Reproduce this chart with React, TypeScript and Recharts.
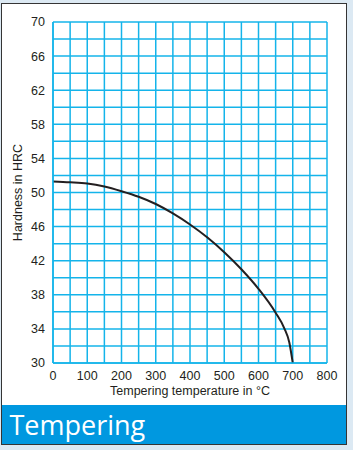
import { LineChart, Line, XAxis, YAxis, CartesianGrid, Label } from 'recharts';

// tempering curve
const temps = [0, 50, 100, 150, 200, 250, 300, 350, 400, 450, 500, 550, 600, 650, 675, 690, 700];
const hardness = [51.3, 51.2, 51.05, 50.7, 50.15, 49.5, 48.65, 47.55, 46.25, 44.75, 43.0, 41.0, 38.7, 35.9, 34.1, 32.4, 30];

const xTicks = [0, 100, 200, 300, 400, 500, 600, 700, 800];
const yTicks = [30, 34, 38, 42, 46, 50, 54, 58, 62, 66, 70];
const xGrid = [0, 50, 100, 150, 200, 250, 300, 350, 400, 450, 500, 550, 600, 650, 700, 750, 800];
const yGrid = [30, 32, 34, 36, 38, 40, 42, 44, 46, 48, 50, 52, 54, 56, 58, 60, 62, 64, 66, 68, 70];

const GRID = '#14b4ea';
const INK = '#231f20';
const FONT = '"Liberation Sans", Arial, sans-serif';

const data = temps.map((t, i) => ({ temp: t, hrc: hardness[i] }));

export default function App() {
  return (
    <div style={{ position: 'absolute', left: 0, top: 0, width: 353, height: 450, background: '#dce9f3', overflow: 'hidden' }}>
      <div
        style={{
          position: 'absolute',
          left: 0.5,
          top: 3,
          width: 344.5,
          height: 440,
          border: '1.5px solid #353535',
          background: '#fff',
        }}
      >
        <div
          style={{
            position: 'absolute',
            left: 0,
            right: 0,
            bottom: 0,
            height: 39,
            background: '#0098e0',
            color: '#fff',
            fontFamily: '"Open Sans", "Noto Sans", sans-serif',
            fontSize: 27,
            lineHeight: '39px',
            paddingLeft: 8,
          }}
        >
          Tempering
        </div>
      </div>
      <div style={{ position: 'absolute', left: 0, top: 0 }}>
        <LineChart width={353} height={450} data={data} margin={{ top: 22, right: 26, left: 8, bottom: 57 }}>
          <CartesianGrid stroke={GRID} strokeWidth={1.5} horizontalValues={yGrid} verticalValues={xGrid} />
          <XAxis
            dataKey="temp"
            type="number"
            domain={[0, 800]}
            ticks={xTicks}
            height={30}
            tickLine={false}
            axisLine={{ stroke: GRID, strokeWidth: 1.5 }}
            tick={{ fontSize: 12.5, fill: INK, fontFamily: FONT }}
            interval={0}
          >
            <Label
              value="Tempering temperature in °C"
              position="bottom"
              offset={-7}
              style={{ fontSize: 12.5, fill: INK, fontFamily: FONT }}
            />
          </XAxis>
          <YAxis
            type="number"
            domain={[30, 70]}
            ticks={yTicks}
            width={45}
            tickLine={false}
            axisLine={{ stroke: GRID, strokeWidth: 1.5 }}
            tick={{ fontSize: 12.5, fill: INK, fontFamily: FONT }}
            interval={0}
          >
            <Label
              content={({ viewBox }: any) => {
                const cx = viewBox.x + 10;
                const cy = viewBox.y + viewBox.height / 2;
                return (
                  <text
                    x={cx}
                    y={cy}
                    transform={`rotate(-90 ${cx} ${cy})`}
                    textAnchor="middle"
                    dominantBaseline="central"
                    style={{ fontSize: 12.5, fill: INK, fontFamily: FONT }}
                  >
                    Hardness in HRC
                  </text>
                );
              }}
            />
          </YAxis>
          <Line
            type="monotone"
            dataKey="hrc"
            stroke={INK}
            strokeWidth={2}
            dot={false}
            isAnimationActive={false}
          />
        </LineChart>
      </div>
    </div>
  );
}
